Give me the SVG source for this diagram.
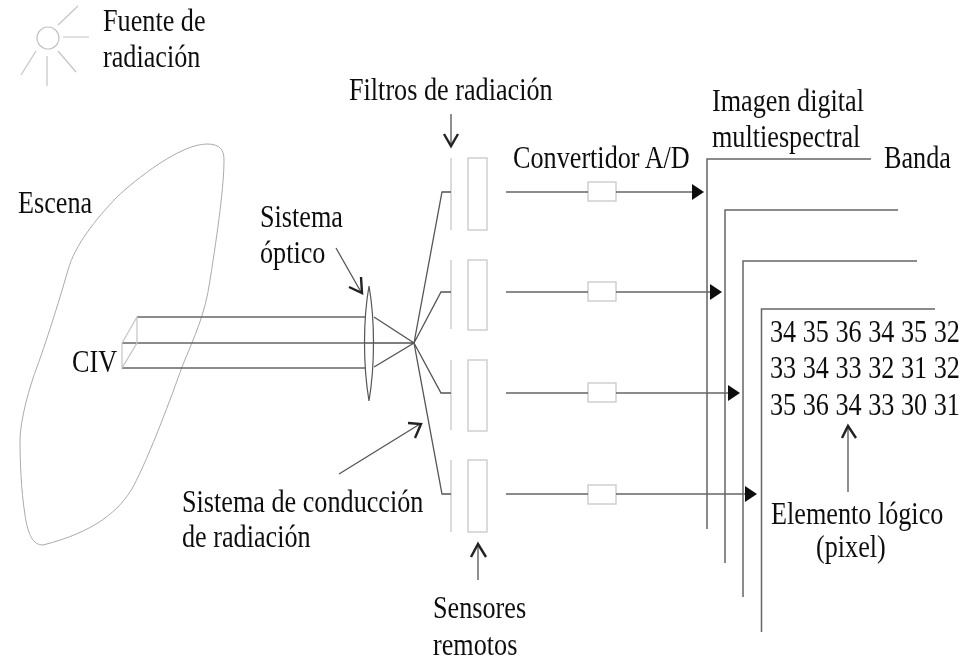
<svg xmlns="http://www.w3.org/2000/svg" width="961" height="660" viewBox="0 0 961 660">
<style>
text{font-family:"Liberation Serif","Times New Roman",serif;font-size:26.2px;fill:#111}
.b{fill:none;stroke:#666;stroke-width:1.5}
.d{fill:none;stroke:#555;stroke-width:1.3}
.l{fill:none;stroke:#c4c4c4;stroke-width:1.2}
.s{fill:#fff;stroke:#ccc;stroke-width:1.4}
.a{fill:none;stroke:#555;stroke-width:1.3}
.h{fill:none;stroke:#222;stroke-width:2.4}
.f{fill:#111;stroke:none}
</style>
<defs><filter id="soft" x="0" y="0" width="961" height="660" filterUnits="userSpaceOnUse"><feGaussianBlur stdDeviation="0.45"/></filter></defs>
<rect width="961" height="660" fill="#fff"/>
<g filter="url(#soft)">
<g id="scene">
<path d="M20 440C20 420 30 385 37 367C45 345 58 305 68 270C75 245 95 220 117 197C135 180 180 144 207 144C220 144 224 150 224 160C224 185 218 230 210 280C205 315 195 335 182 367C172 395 150 455 133 487C120 510 95 532 43 545C33 545 28 535 25 515C21 490 20 460 20 440Z" fill="none" stroke="#aaa" stroke-width="1"/>
<text transform="translate(18,213) scale(1,1.24)">Escena</text>
</g>
<g id="source">
<circle cx="48" cy="38" r="11" class="l"/>
<path class="l" d="M58 25L78 6M63 37H89M58 51L76 72M47 56V86M36 51L21 75"/>
<text transform="translate(103,31) scale(1,1.24)">Fuente de</text>
<text transform="translate(103,67) scale(1,1.24)">radiación</text>
</g>
<g id="civ">
<path class="b" d="M137 317H365M122 343H365M122 368H365"/>
<path class="l" d="M122 343V368L137 343V317L122 343"/>
<text transform="translate(72,372) scale(1,1.24)">CIV</text>
</g>
<g id="optic">
<path d="M369 286C363 320 363 365 369 401C375 365 375 320 369 286Z" fill="#fff" stroke="#555" stroke-width="1.2"/>
<text transform="translate(260,227) scale(1,1.24)">Sistema</text>
<text transform="translate(260,263) scale(1,1.24)">óptico</text>
</g>
<g id="filters">
<path class="l" d="M451 158V230M451 260V329M451 360V430M451 460V532"/>
<text transform="translate(349,100) scale(1,1.24)">Filtros de radiación</text>
</g>
<g id="sensors">
<rect class="s" x="468" y="158" width="19" height="72"/>
<rect class="s" x="468" y="260" width="19" height="70"/>
<rect class="s" x="468" y="360" width="19" height="71"/>
<rect class="s" x="468" y="460" width="19" height="72"/>
<text transform="translate(433,618) scale(1,1.24)">Sensores</text>
<text transform="translate(433,655) scale(1,1.24)">remotos</text>
</g>
<g id="converters">
<rect class="s" x="588" y="182" width="28" height="19"/>
<rect class="s" x="588" y="282" width="28" height="19"/>
<rect class="s" x="588" y="383" width="28" height="19"/>
<rect class="s" x="588" y="485" width="28" height="19"/>
<text transform="translate(513,168) scale(1,1.24)">Convertidor A/D</text>
</g>
<g id="bands">
<path class="b" d="M871 159H707V529"/>
<path class="b" d="M898 210H725V563"/>
<path class="b" d="M917 261H743V597"/>
<path class="b" d="M935 309H761.5V632"/>
<text transform="translate(712,111) scale(1,1.24)">Imagen digital</text>
<text transform="translate(712,147) scale(1,1.24)">multiespectral</text>
<text transform="translate(884,168) scale(1,1.24)">Banda</text>
<text transform="translate(770,342) scale(1,1.24)">34 35 36 34 35 32</text>
<text transform="translate(770,378) scale(1,1.24)">33 34 33 32 31 32</text>
<text transform="translate(770,415) scale(1,1.24)">35 36 34 33 30 31</text>
</g>
<g id="labels">
<text transform="translate(182,512) scale(1,1.24)">Sistema de conducción</text>
<text transform="translate(182,547) scale(1,1.24)">de radiación</text>
<text transform="translate(771,524) scale(1,1.24)">Elemento lógico</text>
<text transform="translate(816,557) scale(1,1.24)">(pixel)</text>
</g>
<g id="connectors">
<path class="d" d="M365 343H414M374 317L414 343L374 367"/>
<path class="d" d="M414 343L442 192H451M414 343L441 292H451M414 343L441 393H451M414 343L442 494H451"/>
<path class="b" d="M506 192H588M616 192H694M506 292H588M616 292H712M506 393H588M616 393H730M506 494H588M616 494H747"/>
<path class="f" d="M692 184L704 192L692 200ZM710 284L722 292L710 300ZM728 385L740 393L728 401ZM745 486L757 494L745 502Z"/>
<path class="a" d="M451 114V145M336 248L361 292M339 474L420 424M478 580V545M848 492V428"/>
<path class="h" d="M444 134L451 146L458 134M349 287L362 293L361 277M408 423L421 424L415 438M471 557L478 544L486 557M842 438L848 426L856 438"/>
</g>
</g>
</svg>
